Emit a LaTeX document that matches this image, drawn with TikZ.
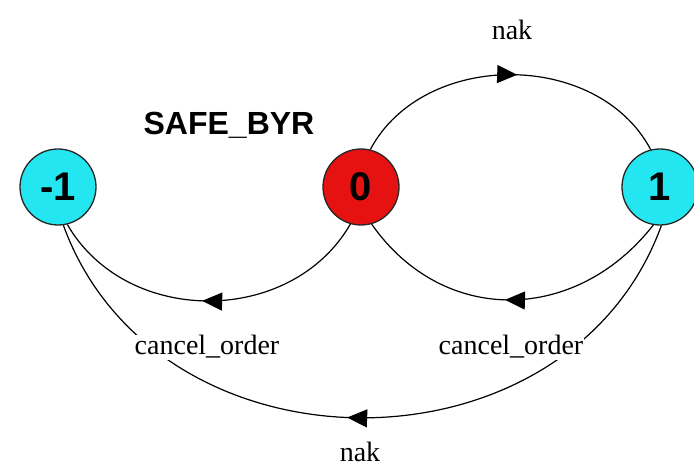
\documentclass[tikz,border=0pt]{standalone}
\usepackage{fontspec}
\setmainfont{Liberation Serif}
\setsansfont{Liberation Sans}
\usetikzlibrary{arrows.meta,decorations.markings}
\definecolor{statecyan}{RGB}{36,230,240}
\definecolor{statered}{RGB}{230,18,18}

\begin{document}
\begin{tikzpicture}[x=1pt,y=1pt,
  state/.style={circle,draw=black!85,line width=1.3pt,minimum size=76pt,inner sep=0pt,
    font=\sffamily\bfseries\fontsize{40}{40}\selectfont},
  trans/.style={line width=1.2pt,postaction={decorate},
    decoration={markings,mark=at position 0.52 with {\arrow{Triangle[length=20pt,width=18pt]}}}},
  lbl/.style={font=\fontsize{28}{28}\selectfont,fill=white,inner sep=1pt,anchor=base}
]
\useasboundingbox (0,0) rectangle (694,468);

\node[state,fill=statecyan] (m1) at (58,281) {-1};
\node[state,fill=statered] (zero) at (361,281) {0};
\node[state,fill=statecyan] (one) at (660,281) {1};

\node[font=\sffamily\bfseries\fontsize{32}{32}\selectfont,anchor=base] (title) at (229,333) {SAFE\_BYR};

% transitions
\draw[trans] (one.-88) .. controls +(-110:273) and +(-70:273) .. (m1.-82);
\draw[trans] (zero.76) .. controls +(62:113) and +(118:113) .. (one.104);
\draw[trans] (zero.-106) .. controls +(-120:118) and +(-60:118) .. (m1.-76);
\draw[trans] (one.-100) .. controls +(-128:125) and +(-55:125) .. (zero.-74);

% labels
\node[lbl] (naktop) at (512,428) {nak};
\node[lbl] (cancelleft) at (207,113) {cancel\_order};
\node[lbl] (cancelright) at (511,113) {cancel\_order};
\node[lbl] (nakbottom) at (360,6) {nak};
\end{tikzpicture}
\end{document}
